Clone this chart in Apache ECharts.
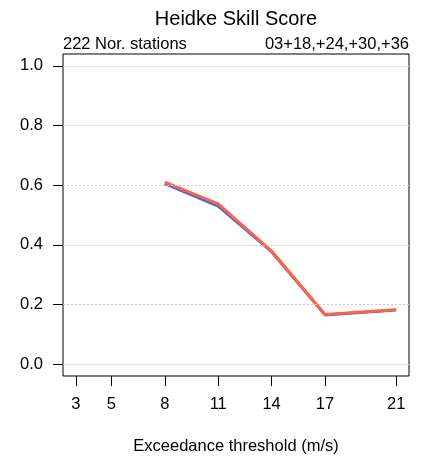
<!DOCTYPE html>
<html><head><meta charset="utf-8">
<script src="https://cdn.jsdelivr.net/npm/echarts@6/dist/echarts.min.js"></script>
<style>html,body{margin:0;padding:0;background:#fff}#c{width:428px;height:462px}</style>
</head><body><div id="c"></div>
<script>
var thresholds = [8, 11, 14, 17, 21];
var seriesBlue = [0.605, 0.530, 0.377, 0.165, 0.181];
var seriesRed  = [0.610, 0.537, 0.379, 0.166, 0.182];
var xTicks = [3, 5, 8, 11, 14, 17, 21];
var yTicks = [0, 0.2, 0.4, 0.6, 0.8, 1.0];

var FONT = '"Liberation Sans", Arial, Helvetica, sans-serif';
var chart = echarts.init(document.getElementById('c'));
function pairs(v){ return thresholds.map(function(x,i){ return [x, v[i]]; }); }
chart.setOption({
  animation: false,
  textStyle: {fontFamily: FONT},
  grid: {left: 63, right: 19, top: 54, bottom: 86, show: true, borderColor: '#000', borderWidth: 1, backgroundColor: 'transparent'},
  graphic: [
    {type: 'text', x: 236, y: 19, style: {text: 'Heidke Skill Score', font: '20px ' + FONT, fill: '#000', align: 'center', verticalAlign: 'middle'}},
    {type: 'text', x: 63, y: 44, style: {text: '222 Nor. stations', font: '16.5px ' + FONT, fill: '#000', align: 'left', verticalAlign: 'middle'}},
    {type: 'text', x: 409, y: 44, style: {text: '03+18,+24,+30,+36', font: '16.5px ' + FONT, fill: '#000', align: 'right', verticalAlign: 'middle'}}
  ],
  xAxis: {
    type: 'value', min: 2.28, max: 21.72,
    axisLine: {show: false, onZero: false},
    axisTick: {show: true, length: 10, customValues: xTicks, lineStyle: {color: '#000'}},
    axisLabel: {customValues: xTicks, margin: 20, fontSize: 16.5, color: '#000', fontFamily: FONT},
    splitLine: {show: false},
    name: 'Exceedance threshold (m/s)', nameLocation: 'middle', nameGap: 62,
    nameTextStyle: {fontSize: 16.5, color: '#000', fontFamily: FONT}
  },
  yAxis: {
    type: 'value', min: -0.04, max: 1.04,
    axisLine: {show: false, onZero: false},
    axisTick: {show: true, length: 10, customValues: yTicks, lineStyle: {color: '#000'}},
    axisLabel: {customValues: yTicks, margin: 20, fontSize: 16.5, color: '#000', fontFamily: FONT,
      formatter: function(v){ return v.toFixed(1); }},
    splitLine: {show: false}
  },
  series: [
    {type: 'line', data: pairs(seriesBlue), symbol: 'none', lineStyle: {color: '#4169E1', width: 3}, z: 3,
     markLine: {silent: true, symbol: 'none', label: {show: false},
       lineStyle: {color: '#c8c8c8', type: [2, 2], width: 1},
       data: yTicks.map(function(v){ return {yAxis: v}; })}},
    {type: 'line', data: pairs(seriesRed), symbol: 'none', lineStyle: {color: '#FF6347', width: 3}, z: 4}
  ]
});
</script></body></html>
